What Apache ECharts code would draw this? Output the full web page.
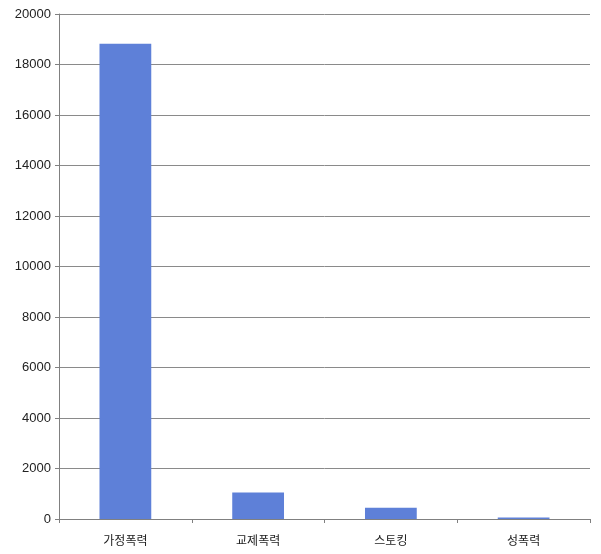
<!DOCTYPE html>
<html><head><meta charset="utf-8">
<script src="https://cdn.jsdelivr.net/npm/echarts@6/dist/echarts.min.js"></script>
<style>html,body{margin:0;padding:0;background:#fff}#c{width:601px;height:554px}</style>
</head><body><div id="c"></div>
<script>
var categories = ['가정폭력', '교제폭력', '스토킹', '성폭력'];
var values = [18820, 1050, 450, 60];
var yTicks = {min: 0, max: 20000, interval: 2000};

var chart = echarts.init(document.getElementById('c'));
chart.setOption({
  animation: false,
  grid: {left: 59, right: 11, top: 14, bottom: 35},
  xAxis: {
    type: 'category', data: categories,
    axisLine: {lineStyle: {color: '#808080'}},
    axisTick: {show: true, length: 4, lineStyle: {color: '#808080'}},
    axisLabel: {color: '#222', fontSize: 12, margin: 15, fontFamily: 'Noto Sans CJK KR'},
    splitLine: {show: false}
  },
  yAxis: {
    type: 'value', min: yTicks.min, max: yTicks.max, interval: yTicks.interval,
    axisLine: {show: true, lineStyle: {color: '#808080'}},
    axisTick: {show: true, inside: false, length: 4, lineStyle: {color: '#808080'}},
    axisLabel: {color: '#222', fontSize: 13, margin: 8, fontFamily: 'Liberation Sans',
      formatter: function (v) { return String(v); }},
    splitLine: {lineStyle: {color: '#8a8a8a', width: 1}}
  },
  series: [{
    type: 'bar', data: values, barWidth: '39%',
    itemStyle: {color: '#5E80D8'}
  }]
});
</script></body></html>
